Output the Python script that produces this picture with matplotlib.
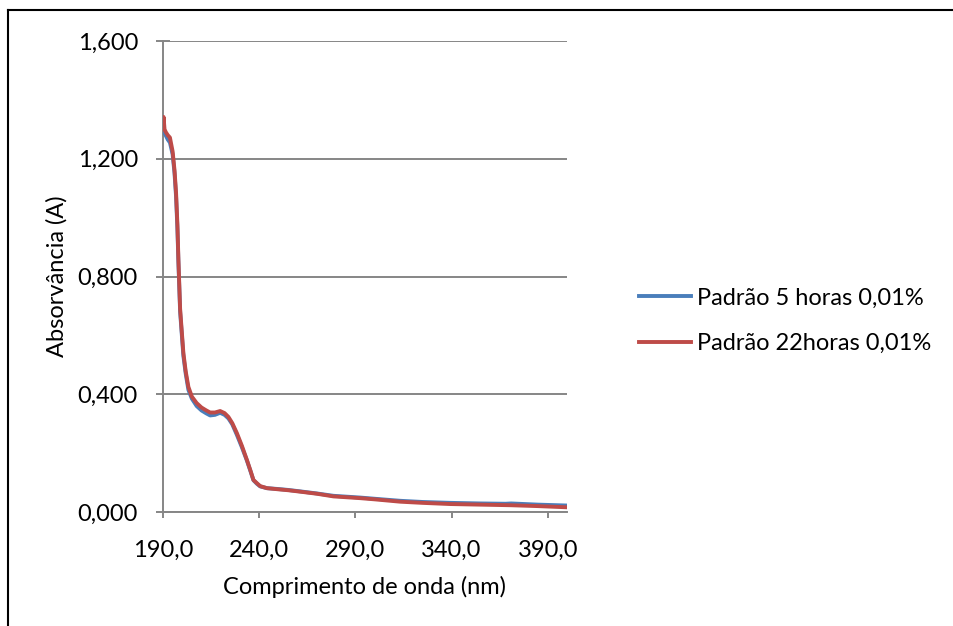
import matplotlib
matplotlib.use("Agg")
import matplotlib.pyplot as plt
from matplotlib.lines import Line2D
from matplotlib.ticker import FuncFormatter

plt.rcParams['font.family'] = ['Lato', 'DejaVu Sans']

# Wavelength (nm) and absorbance for each standard
wl_5h = [190.0, 190.5, 191.0, 192.5, 193.6, 195.0, 196.0, 196.8, 197.5, 198.0,
         198.9, 199.8, 200.6, 201.8, 203.2, 205.0, 207.5, 210.0, 212.5, 214.5,
         217.0, 219.7, 222.0, 224.0, 226.0, 228.4, 231.0, 233.6, 235.5, 237.0,
         238.8, 240.5, 244.0, 250.0, 255.0, 261.4, 270.0, 278.6, 292.6, 300.0,
         313.4, 325.0, 339.5, 355.0, 368.0, 371.0, 385.0, 400.0]
abs_5h = [1.290, 1.300, 1.285, 1.265, 1.255, 1.215, 1.150, 1.070, 0.960, 0.850,
          0.680, 0.600, 0.530, 0.470, 0.415, 0.385, 0.360, 0.345, 0.335, 0.328,
          0.330, 0.337, 0.330, 0.318, 0.298, 0.262, 0.220, 0.175, 0.138, 0.108,
          0.096, 0.087, 0.081, 0.078, 0.075, 0.070, 0.063, 0.055, 0.049, 0.045,
          0.038, 0.034, 0.031, 0.029, 0.028, 0.029, 0.025, 0.022]

wl_22h = [190.0, 190.3, 190.8, 191.5, 192.5, 193.6, 195.0, 196.0, 196.8, 197.5,
          198.0, 198.9, 199.8, 200.6, 201.8, 203.2, 205.0, 207.5, 210.0, 212.5,
          214.5, 217.0, 219.7, 222.0, 224.0, 226.0, 228.4, 231.0, 233.6, 235.5,
          237.0, 238.8, 240.5, 244.0, 250.0, 255.0, 261.4, 270.0, 278.6, 292.6,
          300.0, 313.4, 325.0, 339.5, 355.0, 370.7, 385.0, 400.0]
abs_22h = [1.300, 1.342, 1.300, 1.290, 1.280, 1.272, 1.225, 1.160, 1.083, 0.975,
           0.860, 0.690, 0.610, 0.540, 0.478, 0.425, 0.392, 0.370, 0.355, 0.345,
           0.338, 0.338, 0.343, 0.336, 0.323, 0.302, 0.268, 0.225, 0.177, 0.140,
           0.109, 0.098, 0.088, 0.081, 0.077, 0.074, 0.069, 0.062, 0.053, 0.047,
           0.043, 0.035, 0.031, 0.027, 0.025, 0.023, 0.020, 0.016]

series_labels = ["Padrão 5 horas 0,01%", "Padrão 22horas 0,01%"]
series_colors = ["#4a7ebb", "#be4b48"]

x_ticks = [190.0, 240.0, 290.0, 340.0, 390.0]
y_ticks = [0.0, 0.4, 0.8, 1.2, 1.6]

FS = 17
LW = 2.8

fig = plt.figure(figsize=(9.54, 6.26), dpi=100)
ax = fig.add_axes([163 / 954, 1 - 512 / 626, 404 / 954, 471 / 626])

grid_color = "#868686"
ax.plot(wl_5h, abs_5h, color=series_colors[0], lw=LW, solid_capstyle="round",
        solid_joinstyle="round", zorder=3)
ax.plot(wl_22h, abs_22h, color=series_colors[1], lw=LW, solid_capstyle="round",
        solid_joinstyle="round", zorder=4)

ax.set_xlim(190, 400)
ax.set_ylim(0, 1.6)
ax.set_xticks(x_ticks)
ax.set_yticks(y_ticks)
ax.xaxis.set_major_formatter(FuncFormatter(lambda v, p: f"{v:.1f}".replace(".", ",")))
ax.yaxis.set_major_formatter(FuncFormatter(lambda v, p: f"{v:.3f}".replace(".", ",")))

ax.yaxis.grid(True, color=grid_color, lw=1.4)
ax.set_axisbelow(True)
for side in ["top", "right"]:
    ax.spines[side].set_visible(False)
for side in ["left", "bottom"]:
    ax.spines[side].set_color(grid_color)
    ax.spines[side].set_linewidth(1.4)

ax.tick_params(axis="x", direction="out", length=4, width=1.4, color=grid_color,
               labelsize=FS, pad=16, labelcolor="black")
ax.tick_params(axis="y", direction="inout", length=10, width=1.4, color=grid_color,
               labelsize=FS, pad=13, labelcolor="black")

ax.set_xlabel("Comprimento de onda (nm)", fontsize=FS, va="center")
ax.xaxis.set_label_coords(0.5, -(587 - 512) / 471)
ax.set_ylabel("Absorvância (A)", fontsize=FS, va="center")
ax.yaxis.set_label_coords(-(163 - 57) / 404, 0.5)

handles = [Line2D([], [], color=c, lw=LW) for c in series_colors]
fig.legend(handles, series_labels, loc="center left",
           bbox_to_anchor=(618 / 954, 1 - 321 / 626), frameon=False,
           fontsize=FS, handlelength=2.2, handletextpad=0.25, labelspacing=1.04)

# Chart area border (left and top edges)
fig.add_artist(Line2D([8 / 954, 8 / 954], [0, 1 - 10 / 626], color="black", lw=1.5,
                      transform=fig.transFigure))
fig.add_artist(Line2D([8 / 954, 1], [1 - 10 / 626, 1 - 10 / 626], color="black", lw=1.5,
                      transform=fig.transFigure))

fig.savefig("out.png", dpi=100, facecolor="white")
